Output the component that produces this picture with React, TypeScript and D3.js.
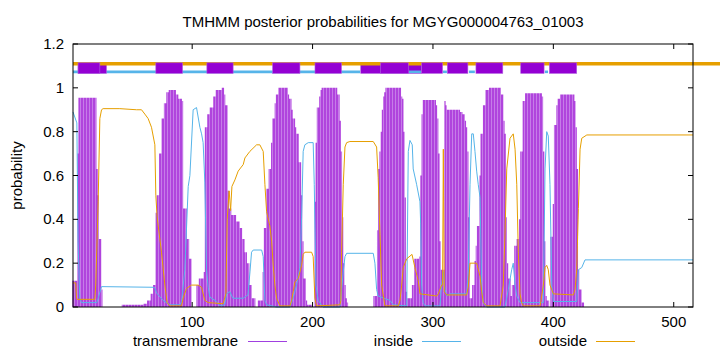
import React, { useEffect, useRef } from 'react';
import * as d3 from 'd3';

const W = 720;
const H = 352;
const seqLength = 516;
const title = 'TMHMM posterior probabilities for MGYG000004763_01003';
const xTicks = [100, 200, 300, 400, 500];
const yTicks = [0, 0.2, 0.4, 0.6, 0.8, 1, 1.2];

// transmembrane posterior, [residue, prob]; value holds until the next listed residue
const tmProb: [number, number][] = [
  [1, 0.12], [5, 0.7], [6, 0.955], [21, 0.63], [22, 0.51], [23, 0.31], [25, 0.08], [26, 0],
  [42, 0.01], [60, 0.015], [63, 0.03], [66, 0.06], [68, 0.1], [70, 0.43], [71, 0.51], [73, 0.7],
  [75, 0.86], [77, 0.93], [79, 0.98], [81, 0.99], [87, 0.97], [89, 0.95], [92, 0.94], [93, 0.45],
  [96, 0.31], [98, 0.22], [100, 0],
  [104, 0.1], [106, 0.13], [110, 0.16], [111, 0.82], [113, 0.88], [115, 0.91], [118, 0.96],
  [120, 0.99], [125, 1.0], [127, 0.97], [128, 0.92], [130, 0.53], [131, 0.45], [133, 0.42],
  [137, 0.39], [140, 0.36], [142, 0.31], [144, 0.25], [146, 0.2], [148, 0.1], [150, 0.04], [153, 0],
  [155, 0.03], [159, 0.16], [160, 0.36], [162, 0.54], [164, 0.63], [166, 0.75], [167, 0.86],
  [169, 0.93], [170, 0.97], [172, 1.0], [180, 0.97], [181, 0.95], [183, 0.9], [184, 0.86],
  [186, 0.82], [187, 0.79], [189, 0.66], [191, 0.51], [192, 0.3], [193, 0.13], [195, 0.03],
  [196, 0.01], [200, 0],
  [202, 0.48], [203, 0.75], [204, 0.91], [206, 0.96], [207, 0.99], [208, 1.0], [221, 0.97],
  [223, 0.85], [224, 0.71], [225, 0.41], [226, 0.2], [227, 0.1], [228, 0.04], [229, 0.02], [230, 0],
  [251, 0.05], [254, 0.35], [255, 0.63], [256, 0.71], [257, 0.8], [258, 0.9], [259, 0.96],
  [260, 0.98], [261, 1.0], [274, 0.96], [275, 0.95], [276, 0.8], [277, 0.5], [278, 0.07],
  [279, 0.04], [283, 0.1], [285, 0.22], [289, 0.23], [290, 0.6], [291, 0.88], [292, 0.945],
  [303, 0.92], [304, 0.86], [305, 0.7], [306, 0.3], [307, 0.17], [310, 0.94], [311, 0.92],
  [312, 0.9], [323, 0.89], [325, 0.88], [327, 0.85], [328, 0.82], [329, 0.71], [330, 0.41],
  [331, 0.04], [333, 0.1], [335, 0.21], [336, 0.28], [337, 0.37], [339, 0.6], [340, 0.79],
  [342, 0.92], [344, 0.99], [347, 1.0], [357, 0.97], [359, 0.85], [360, 0.79], [361, 0.41],
  [362, 0.2], [363, 0.13], [365, 0.05], [366, 0.1], [368, 0.28], [370, 0.31], [372, 0.4],
  [373, 0.71], [375, 0.94], [377, 0.975], [391, 0.96], [392, 0.71], [393, 0.3], [394, 0.05],
  [395, 0.03], [397, 0],
  [398, 0.32], [400, 0.47], [401, 0.83], [403, 0.92], [404, 0.95], [406, 0.97], [418, 0.94],
  [419, 0.82], [420, 0.63], [421, 0.17], [422, 0.08], [424, 0.02], [426, 0],
];

const insideProb: [number, number][] = [
  [1, 0.89], [4.2, 0.84], [5.2, 0.3], [6.6, 0.04], [8.1, 0.02], [20.8, 0.02], [21.9, 0.04],
  [24.7, 0.093], [67.6, 0.09], [69, 0.088], [70.4, 0.064], [75.9, 0.03], [81.4, 0.01], [89.8, 0.01],
  [91.2, 0.025], [93.9, 0.17], [96.7, 0.55], [98.1, 0.6], [100.8, 0.9], [103.6, 0.91], [106.4, 0.82],
  [107.8, 0.79], [109.1, 0.75], [110.5, 0.57], [111.9, 0.17], [113.3, 0.09], [114.7, 0.045],
  [120.3, 0.025], [123, 0.005], [127, 0.01], [128.6, 0.06], [131.3, 0.07], [133.8, 0.04],
  [142.4, 0.04], [146.3, 0.055], [148, 0.16], [149.3, 0.25], [150.7, 0.26], [157.7, 0.26],
  [159, 0.23], [160.4, 0.03], [161.8, 0.01], [170.1, 0], [181.2, 0], [183.9, 0.04], [186.7, 0.1],
  [189.5, 0.18], [190.9, 0.41], [192.2, 0.71], [193.6, 0.74], [196.4, 0.75], [200.5, 0.75],
  [201.4, 0.56], [202.8, 0.1], [204.7, 0.03], [208.6, 0], [222.7, 0], [225.5, 0.16], [226.9, 0.23],
  [228.3, 0.245], [250.4, 0.245], [251.8, 0.2], [253.2, 0.08], [254.5, 0.05], [264.3, 0.03],
  [267, 0.01], [278.2, 0.005], [279.5, 0.71], [280.9, 0.76], [282.8, 0.74], [283.6, 0.63],
  [286.4, 0.56], [289.2, 0.48], [289.8, 0.38], [290.6, 0.1], [291.9, 0.02], [293.4, 0.005],
  [305.8, 0.005], [307.2, 0.1], [308.6, 0.16], [310, 0.08], [311.4, 0.05], [314.1, 0.06],
  [328, 0.06], [329.3, 0.16], [330.8, 0.56], [332.2, 0.79], [333.5, 0.79], [334.9, 0.71],
  [336.3, 0.62], [337.6, 0.56], [339.1, 0.5], [340.5, 0.1], [341.8, 0.02], [344.6, 0], [359.8, 0],
  [362.6, 0.08], [365.4, 0.17], [366.7, 0.2], [368.2, 0.1], [369.6, 0.05], [372.3, 0.02],
  [391.7, 0.02], [393.1, 0.63], [394.5, 0.8], [395.8, 0.78], [397.2, 0.56], [398.7, 0.1],
  [400, 0.025], [419.4, 0.025], [420.8, 0.17], [423.6, 0.18], [426.3, 0.215], [516, 0.215],
];

const outsideProb: [number, number][] = [
  [1, 0.11], [3.3, 0.11], [3.9, 0.04], [4.4, 0.035], [19.1, 0.035], [19.9, 0.1], [21.9, 0.48],
  [23.3, 0.86], [24.7, 0.9], [26, 0.905], [39.9, 0.905], [53.8, 0.9], [57.9, 0.9], [60.7, 0.88],
  [63.4, 0.86], [66.2, 0.82], [69, 0.74], [69.8, 0.51], [70.9, 0.41], [74.5, 0.25], [77.3, 0.1],
  [79.2, 0.02], [81.4, 0.005], [91.2, 0.005], [92.5, 0.04], [95.3, 0.085], [99.5, 0.1], [105, 0.1],
  [107.8, 0.09], [110.5, 0.03], [113.3, 0.02], [125.7, 0.015], [128, 0.06], [129.1, 0.4],
  [130.7, 0.53], [131.9, 0.44], [133, 0.55], [135.5, 0.58], [138.2, 0.62], [142.4, 0.65],
  [143.8, 0.68], [147.9, 0.71], [153.5, 0.74], [156.2, 0.74], [159, 0.71], [160.4, 0.56],
  [161.8, 0.435], [164.5, 0.37], [166, 0.3], [167.3, 0.19], [168.7, 0.1], [170.1, 0.04],
  [172.9, 0.005], [181.2, 0.005], [182.6, 0.03], [183.9, 0.07], [185.3, 0.115], [188.1, 0.13],
  [190.9, 0.19], [192.2, 0.24], [193.6, 0.25], [199.2, 0.25], [200.5, 0.23], [201.9, 0.04],
  [203.3, 0.005], [222.7, 0.01], [223.5, 0.03], [224.1, 0.25], [225.5, 0.56], [226.9, 0.73],
  [228.3, 0.75], [231, 0.755], [250.4, 0.755], [253.2, 0.73], [254.5, 0.59], [256, 0.33],
  [257.4, 0.1], [260.1, 0.005], [271.2, 0.005], [272.6, 0.03], [274, 0.1], [275.3, 0.18],
  [278.2, 0.22], [282.6, 0.24], [285, 0.18], [287.8, 0.12], [289.2, 0.06], [303.1, 0.05],
  [304.4, 0.06], [307.2, 0.1], [308, 0.1], [308.6, 0.72], [309.4, 0.07], [311.4, 0.055],
  [328, 0.055], [329.3, 0.09], [330.8, 0.2], [336.3, 0.2], [339.1, 0.14], [340.5, 0.07],
  [341.8, 0.02], [344.6, 0.005], [355.7, 0.005], [358.4, 0.1], [359.8, 0.33], [361.3, 0.63],
  [364, 0.77], [366.7, 0.79], [368.2, 0.72], [369.6, 0.56], [370.9, 0.25], [372.3, 0.06],
  [373.7, 0.02], [375.1, 0.005], [389, 0.005], [391.7, 0.1], [393.1, 0.18], [394.5, 0.19],
  [395.8, 0.17], [397.2, 0.1], [400, 0.06], [416.6, 0.055], [418, 0.08], [419.4, 0.17],
  [420.8, 0.45], [422.2, 0.72], [423.6, 0.77], [427.8, 0.785], [516, 0.785],
];

// predicted topology strip drawn above the curves
const insideMain: [number, number][] = [[1, 239.4]];
const insideBits: [number, number][] = [[280, 290], [308.3, 311.6], [329.9, 334.8], [393, 395.6]];
const outsideSegs: [number, number][] = [[1, 560]];
const helixBack: [number, number][] = [[5.2, 28.8], [240, 290.6]];
const helixSegs: [number, number][] = [
  [5.2, 23.3], [69.8, 92], [112.2, 134], [166.8, 189.5], [202, 224], [256.5, 279.5],
  [290.6, 308], [311.9, 329], [335.7, 358], [372.9, 392.3], [396.7, 419.4],
];

const legendItems = [
  { label: 'transmembrane', color: '#a040e0', textEnd: 238, x1: 248, x2: 287 },
  { label: 'inside', color: '#56b4e9', textEnd: 413, x1: 422, x2: 461 },
  { label: 'outside', color: '#e69f00', textEnd: 587, x1: 596, x2: 635 },
];

const FONT = '"Liberation Sans", Arial, sans-serif';

export default function App() {
  const ref = useRef<SVGSVGElement>(null);

  useEffect(() => {
    const svg = d3.select(ref.current);
    svg.selectAll('*').remove();

    const left = 73, right = 693, top = 44, bottom = 307;
    const x = d3.scaleLinear().domain([1, seqLength]).range([left, right]);
    const y = d3.scaleLinear().domain([0, 1.2]).range([bottom, top]);

    svg.append('rect').attr('width', W).attr('height', H).attr('fill', '#fff');

    // stripes to mimic gnuplot impulses
    const pat = svg.append('defs').append('pattern')
      .attr('id', 'tmStripes')
      .attr('patternUnits', 'userSpaceOnUse')
      .attr('width', 3).attr('height', 10);
    pat.append('rect').attr('width', 3).attr('height', 10).attr('fill', '#b044dd');
    pat.append('rect').attr('x', 2).attr('width', 1).attr('height', 10).attr('fill', '#c67ce8');

    const tmArea = d3.area<[number, number]>()
      .x(d => x(d[0] - 0.5))
      .y0(y(0))
      .y1(d => y(d[1]))
      .curve(d3.curveStepAfter);

    svg.append('path')
      .datum(tmProb)
      .attr('d', tmArea)
      .attr('fill', 'url(#tmStripes)');

    const line = d3.line<[number, number]>().x(d => x(d[0])).y(d => y(d[1]));

    svg.append('path').datum(insideProb).attr('d', line)
      .attr('fill', 'none').attr('stroke', '#56b4e9').attr('stroke-width', 1);
    svg.append('path').datum(outsideProb).attr('d', line)
      .attr('fill', 'none').attr('stroke', '#e69f00').attr('stroke-width', 1);

    // topology strip
    const drawSegs = (segs: [number, number][], level: number, color: string, width: number) => {
      svg.append('g').selectAll('line').data(segs).enter().append('line')
        .attr('x1', d => x(d[0])).attr('x2', d => x(d[1]))
        .attr('y1', y(level)).attr('y2', y(level))
        .attr('stroke', color).attr('stroke-width', width);
    };
    const drawBoxes = (segs: [number, number][]) => {
      svg.append('g').selectAll('rect').data(segs).enter().append('rect')
        .attr('x', d => x(d[0])).attr('width', d => x(d[1]) - x(d[0]))
        .attr('y', y(1.09) - 5.3).attr('height', 10.6)
        .attr('fill', '#9400d3').attr('stroke', '#b060e0').attr('stroke-width', 0.6);
    };
    drawSegs(insideMain, 1.073, '#56b4e9', 2.6);
    drawBoxes(helixBack);
    drawSegs(insideBits, 1.073, '#56b4e9', 2.6);
    drawSegs(outsideSegs, 1.11, '#e69f00', 3.6);
    drawBoxes(helixSegs);

    // frame and ticks
    svg.append('rect')
      .attr('x', left).attr('y', top).attr('width', right - left).attr('height', bottom - top)
      .attr('fill', 'none').attr('stroke', '#000').attr('stroke-width', 1);

    const tickG = svg.append('g').attr('stroke', '#000').attr('stroke-width', 1);
    yTicks.forEach(t => {
      tickG.append('line').attr('x1', left).attr('x2', left + 5).attr('y1', y(t)).attr('y2', y(t));
      tickG.append('line').attr('x1', right - 5).attr('x2', right).attr('y1', y(t)).attr('y2', y(t));
    });
    xTicks.forEach(t => {
      tickG.append('line').attr('x1', x(t)).attr('x2', x(t)).attr('y1', bottom).attr('y2', bottom - 5);
      tickG.append('line').attr('x1', x(t)).attr('x2', x(t)).attr('y1', top).attr('y2', top + 5);
    });

    svg.append('g').selectAll('text').data(yTicks).enter().append('text')
      .attr('x', left - 9).attr('y', d => y(d) + 5)
      .attr('text-anchor', 'end')
      .attr('font-family', FONT).attr('font-size', 15)
      .text(d => d3.format('~g')(d));

    svg.append('g').selectAll('text').data(xTicks).enter().append('text')
      .attr('x', d => x(d)).attr('y', bottom + 20)
      .attr('text-anchor', 'middle')
      .attr('font-family', FONT).attr('font-size', 15)
      .text(d => d);

    svg.append('text')
      .attr('x', (left + right) / 2).attr('y', 27)
      .attr('text-anchor', 'middle')
      .attr('font-family', FONT).attr('font-size', 15)
      .text(title);

    svg.append('text')
      .attr('transform', `translate(22,${(top + bottom) / 2}) rotate(-90)`)
      .attr('text-anchor', 'middle')
      .attr('font-family', FONT).attr('font-size', 15)
      .text('probability');

    // legend
    legendItems.forEach(it => {
      svg.append('text')
        .attr('x', it.textEnd).attr('y', 346)
        .attr('text-anchor', 'end')
        .attr('font-family', FONT).attr('font-size', 15)
        .text(it.label);
      svg.append('line')
        .attr('x1', it.x1).attr('x2', it.x2).attr('y1', 341.5).attr('y2', 341.5)
        .attr('stroke', it.color).attr('stroke-width', 1);
    });
  }, []);

  return (
    <svg ref={ref} width={W} height={H} style={{ position: 'absolute', left: 0, top: 0 }} />
  );
}
